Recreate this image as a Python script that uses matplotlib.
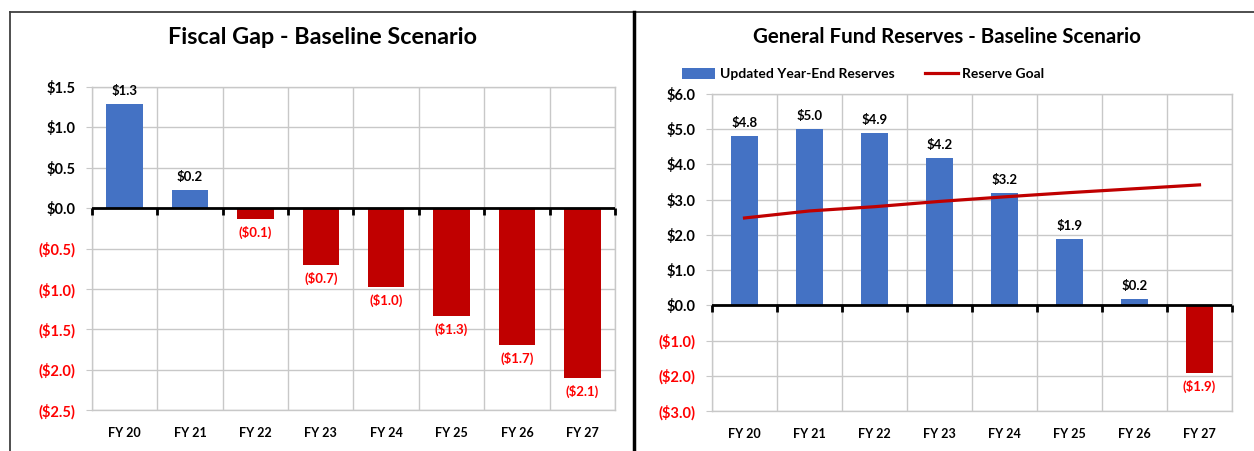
"""
Fiscal gap and general fund reserves, baseline scenario
"""
import numpy as np
import matplotlib as mpl
mpl.use('Agg')
import matplotlib.pyplot as plt
from matplotlib.lines import Line2D
from matplotlib.patches import Patch

plt.rcParams['font.family'] = ['Lato', 'DejaVu Sans']
plt.rcParams['font.weight'] = 'bold'


### data [$M]
years = ['FY 20', 'FY 21', 'FY 22', 'FY 23', 'FY 24', 'FY 25', 'FY 26', 'FY 27']

fiscal_gap = np.array([1.29, 0.23, -0.14, -0.70, -0.98, -1.33, -1.70, -2.10])
gap_labels = ['$1.3', '$0.2', '($0.1)', '($0.7)', '($1.0)', '($1.3)', '($1.7)', '($2.1)']
gap_yticks = [1.5, 1.0, 0.5, 0.0, -0.5, -1.0, -1.5, -2.0, -2.5]

reserves = np.array([4.80, 5.02, 4.89, 4.19, 3.19, 1.88, 0.18, -1.93])
reserve_labels = ['$4.8', '$5.0', '$4.9', '$4.2', '$3.2', '$1.9', '$0.2', '($1.9)']
reserve_goal = np.array([2.48, 2.68, 2.80, 2.95, 3.08, 3.20, 3.31, 3.42])
res_yticks = [6.0, 5.0, 4.0, 3.0, 2.0, 1.0, 0.0, -1.0, -2.0, -3.0]


BLUE = '#4472C4'
DARKRED = '#C00000'
RED = '#FF0000'
GRID = '#C8C8C8'

W, H = 1254, 451


def money(v):
    if v < 0:
        return '(${:.1f})'.format(-v)
    return '${:.1f}'.format(v)


def px_axes(fig, l, t, r, b):
    return fig.add_axes([l / W, 1 - b / H, (r - l) / W, (b - t) / H])


def style_axes(ax, yticks, ylim):
    x = np.arange(len(years))
    ax.set_xlim(-0.5, len(years) - 0.5)
    ax.set_ylim(*ylim)
    ax.set_yticks(yticks)
    ax.set_yticklabels([money(v) for v in yticks])
    for lab, v in zip(ax.get_yticklabels(), yticks):
        lab.set_color(RED if v < 0 else 'black')
    ax.set_xticks(x)
    ax.set_xticklabels(years)
    ax.set_xticks(np.arange(-0.5, len(years)), minor=True)
    ax.tick_params(axis='x', which='both', length=0, pad=12, labelsize=9)
    ax.tick_params(axis='y', length=4, color=GRID, pad=8, labelsize=10.5)
    ax.grid(axis='y', which='major', color=GRID, lw=1)
    ax.grid(axis='x', which='minor', color=GRID, lw=1)
    ax.set_axisbelow(True)
    for s in ax.spines.values():
        s.set_color(GRID)
        s.set_linewidth(1)
    # zero axis with category tick marks
    ax.axhline(0, color='black', lw=2, zorder=4)
    zero = ax.secondary_xaxis(0, transform=ax.transData)
    zero.set_xticks(np.arange(-0.5, len(years)))
    zero.tick_params(length=5, width=2, color='black', labelbottom=False, direction='out')
    zero.spines['bottom'].set_visible(False)
    zero.set_zorder(5)


def bar_labels(ax, vals, labels, off):
    for i, (v, s) in enumerate(zip(vals, labels)):
        if v >= 0:
            ax.annotate(s, (i, v), xytext=(0, off), textcoords='offset points',
                        ha='center', va='bottom', fontsize=9.5, color='black')
        else:
            ax.annotate(s, (i, v), xytext=(0, -off), textcoords='offset points',
                        ha='center', va='top', fontsize=9.5, color=RED)


fig = plt.figure(figsize=(W / 100, H / 100), dpi=100)

### fiscal gap
ax1 = px_axes(fig, 92, 87, 615, 410)
style_axes(ax1, gap_yticks, (-2.5, 1.5))
x = np.arange(len(years))
ax1.bar(x, fiscal_gap, width=0.56, color=[BLUE if v >= 0 else DARKRED for v in fiscal_gap], zorder=2)
bar_labels(ax1, fiscal_gap, gap_labels, 5)
fig.text(323 / W, 1 - 38 / H, 'Fiscal Gap - Baseline Scenario', ha='center', va='center', fontsize=16.8)

### general fund reserves
ax2 = px_axes(fig, 712, 94, 1232, 411)
style_axes(ax2, res_yticks, (-3.0, 6.0))
ax2.bar(x, reserves, width=0.41, color=[BLUE if v >= 0 else DARKRED for v in reserves], zorder=2)
ax2.plot(x, reserve_goal, color=DARKRED, lw=2.3, zorder=3)
bar_labels(ax2, reserves, reserve_labels, 5)
fig.text(947 / W, 1 - 37 / H, 'General Fund Reserves - Baseline Scenario', ha='center', va='center', fontsize=14.8)

handles = [Patch(facecolor=BLUE), Line2D([], [], color=DARKRED, lw=2.3)]
fig.legend(handles, ['Updated Year-End Reserves', 'Reserve Goal'], loc='center left',
           bbox_to_anchor=(682 / W, 1 - 74 / H), ncol=2, frameon=False, fontsize=10,
           handlelength=2.4, handleheight=0.8, handletextpad=0.3, columnspacing=2.2,
           borderaxespad=0, borderpad=0)

### panel borders
fig.add_artist(Line2D([10 / W, 1], [1 - 12 / H, 1 - 12 / H], color='#404040', lw=1.3))
fig.add_artist(Line2D([10 / W, 10 / W], [0, 1 - 12 / H], color='#404040', lw=1.3))
fig.add_artist(Line2D([634 / W, 634 / W], [0, 1 - 12 / H], color='black', lw=2.5))

fig.savefig('out.png', dpi=100)
